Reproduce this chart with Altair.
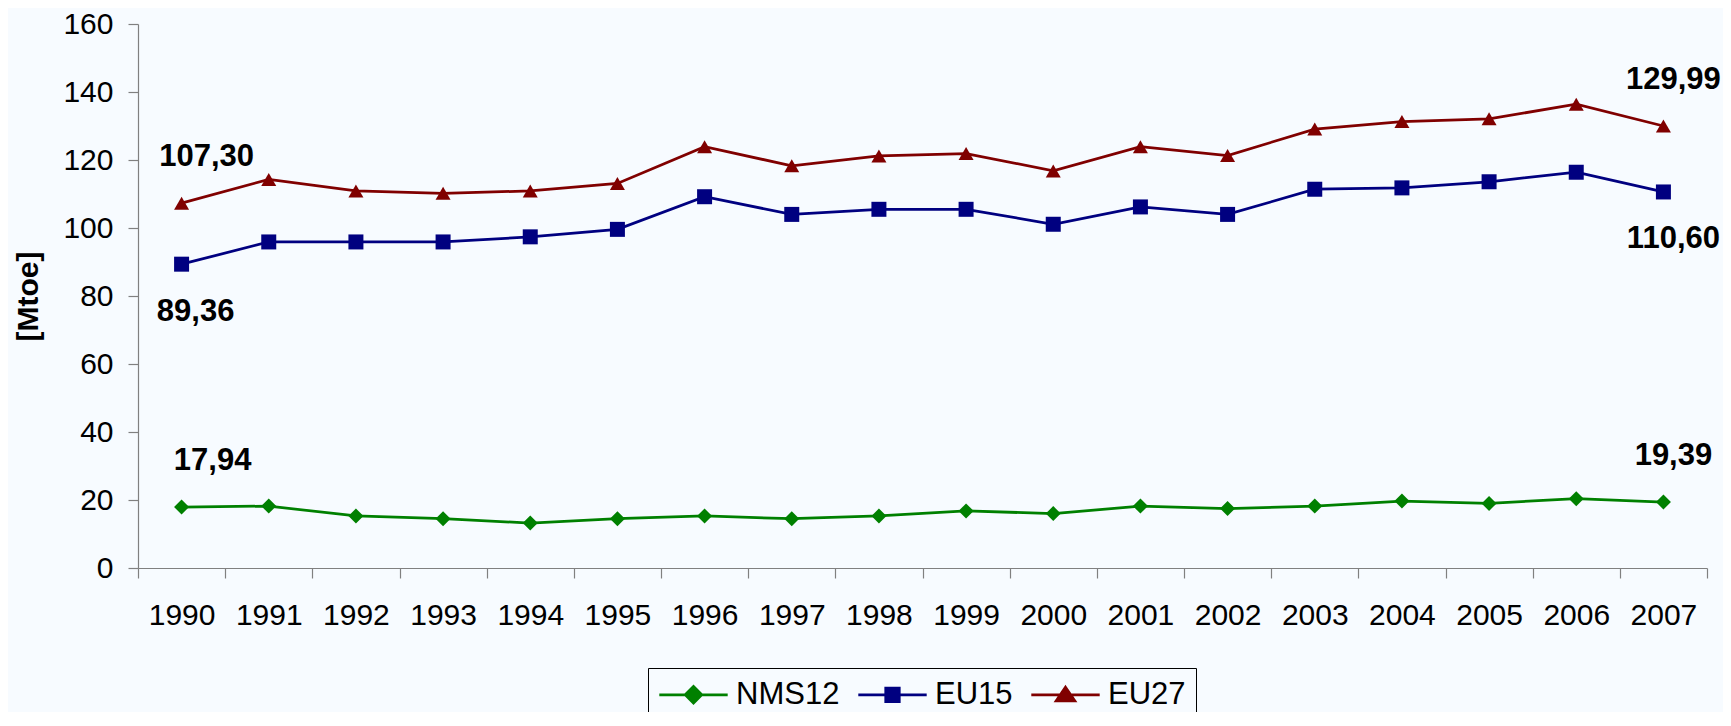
import altair as alt
import pandas as pd

# ---------------- data ----------------
YEARS = ["1990", "1991", "1992", "1993", "1994", "1995", "1996", "1997", "1998",
         "1999", "2000", "2001", "2002", "2003", "2004", "2005", "2006", "2007"]
SERIES = ["NMS12", "EU15", "EU27"]
NMS12 = [17.94, 18.2, 15.3, 14.5, 13.2, 14.5, 15.3, 14.5, 15.3,
         16.8, 16.0, 18.2, 17.5, 18.2, 19.7, 19.0, 20.4, 19.39]
EU15 = [89.36, 95.9, 95.9, 95.9, 97.4, 99.6, 109.2, 104.0, 105.5,
        105.5, 101.1, 106.2, 104.0, 111.4, 111.8, 113.6, 116.4, 110.60]
EU27 = [107.30, 114.3, 110.9, 110.2, 110.9, 113.1, 123.9, 118.3, 121.2,
        121.9, 116.8, 123.9, 121.3, 129.1, 131.3, 132.1, 136.4, 129.99]
Y_TICKS = [0, 20, 40, 60, 80, 100, 120, 140, 160]

# annotated points: (series, year)
LABEL_POINTS = [("EU27", "1990"), ("EU15", "1990"), ("NMS12", "1990"),
                ("EU27", "2007"), ("EU15", "2007"), ("NMS12", "2007")]

# ---------------- styles ----------------
COLORS = ["#008000", "#000080", "#800000"]
SHAPES = ["diamond", "square", "triangle-up"]
LABEL_OFFSETS = [(25, -46), (14, 48), (31, -46), (10, -46), (10, 47), (10, -46)]
FONT = "Liberation Sans"
BG = "#f7fbff"


def _poly(pts):
    return "M" + "L".join(f"{x:.3f},{y:.3f}" for x, y in pts) + "Z"


def _legend_path(kind):
    line = "M-2.28,0L2.28,0"
    parts = [line]
    if kind == "diamond":
        for s in (0.55, 0.42, 0.29, 0.16, 0.05):
            parts.append(_poly([(-s, 0), (0, -s), (s, 0), (0, s)]))
    elif kind == "square":
        for s in (0.45, 0.33, 0.21, 0.09):
            parts.append(_poly([(-s, -s), (s, -s), (s, s), (-s, s)]))
    else:
        cy = 0.1
        for f in (1.0, 0.72, 0.44, 0.16):
            pts = [(0, -0.5), (0.62, 0.4), (-0.62, 0.4)]
            parts.append(_poly([(x * f, cy + (y - cy) * f) for x, y in pts]))
    return "".join(parts)


LEGEND_PATHS = [_legend_path(k) for k in SHAPES]

rows = []
for name, vals in zip(SERIES, [NMS12, EU15, EU27]):
    for y, v in zip(YEARS, vals):
        rows.append({"year": y, "series": name, "value": v})
df = pd.DataFrame(rows)

x_enc = alt.X("year:O", sort=YEARS,
              scale=alt.Scale(type="band", domain=YEARS, paddingInner=0, paddingOuter=0),
              axis=alt.Axis(title=None, labelAngle=0, tickBand="extent", labelPadding=22,
                            labelFontSize=30, labelFont=FONT, labelColor="black"))
y_enc = alt.Y("value:Q", scale=alt.Scale(domain=[0, 160], nice=False, zero=True),
              axis=alt.Axis(values=Y_TICKS, title="[Mtoe]", titleFont=FONT, titleFontSize=30,
                            titleFontWeight="bold", titleColor="black", titleAngle=270,
                            titleX=-110, titleY=272, titleAlign="center", titleBaseline="middle",
                            labelPadding=15, labelFontSize=30, labelFont=FONT, labelColor="black"))

cscale = alt.Scale(domain=SERIES, range=COLORS)

lines = alt.Chart(df).mark_line(strokeWidth=2.75).encode(
    x=x_enc, y=y_enc, color=alt.Color("series:N", scale=cscale, legend=None))

points = alt.Chart(df).mark_point(filled=True, size=225, opacity=1).encode(
    x=x_enc, y=y_enc,
    color=alt.Color("series:N", scale=cscale, legend=None),
    shape=alt.Shape("series:N", scale=alt.Scale(domain=SERIES, range=SHAPES), legend=None))

legend_props = dict(title=None, orient="none", legendX=510, legendY=644, direction="horizontal",
                    labelFont=FONT, labelFontSize=31, labelColor="black", symbolSize=900,
                    symbolStrokeWidth=2.75, symbolOpacity=1, symbolOffset=19,
                    labelOffset=26, columnPadding=12, padding=10, strokeColor="black",
                    labelLimit=300)

legend_layer = alt.Chart(df).mark_point(filled=False, opacity=0, size=900, strokeWidth=2.75).encode(
    x=x_enc, y=y_enc,
    color=alt.Color("series:N", scale=cscale, legend=alt.Legend(**legend_props)),
    shape=alt.Shape("series:N", scale=alt.Scale(domain=SERIES, range=LEGEND_PATHS),
                    legend=alt.Legend(**legend_props)))

series_vals = dict(zip(SERIES, [NMS12, EU15, EU27]))
label_layers = []
for (s, yr), (dx, dy) in zip(LABEL_POINTS, LABEL_OFFSETS):
    v = series_vals[s][YEARS.index(yr)]
    ldf = pd.DataFrame([{"year": yr, "value": v, "text": f"{v:.2f}".replace(".", ",")}])
    label_layers.append(
        alt.Chart(ldf).mark_text(font=FONT, fontSize=31, fontWeight="bold", color="black",
                                 align="center", baseline="middle", dx=dx, dy=dy).encode(
            x=x_enc, y=y_enc, text="text:N"))

chart = alt.layer(lines, points, legend_layer, *label_layers).resolve_scale(
    color="independent", shape="independent"
).properties(
    width=1569, height=544,
    padding={"left": 130, "top": 16, "right": 16, "bottom": 144},
    autosize=alt.AutoSizeParams(type="none"),
).configure(background=BG).configure_view(strokeWidth=0).configure_axis(
    grid=False, domainColor="#808080", tickColor="#808080", tickSize=10, domainWidth=1.2, tickWidth=1.2
).configure_legend(labelFontSize=31, labelFont=FONT, labelColor="black")

chart.save("out.html", embed_options={"renderer": "svg", "actions": False})
